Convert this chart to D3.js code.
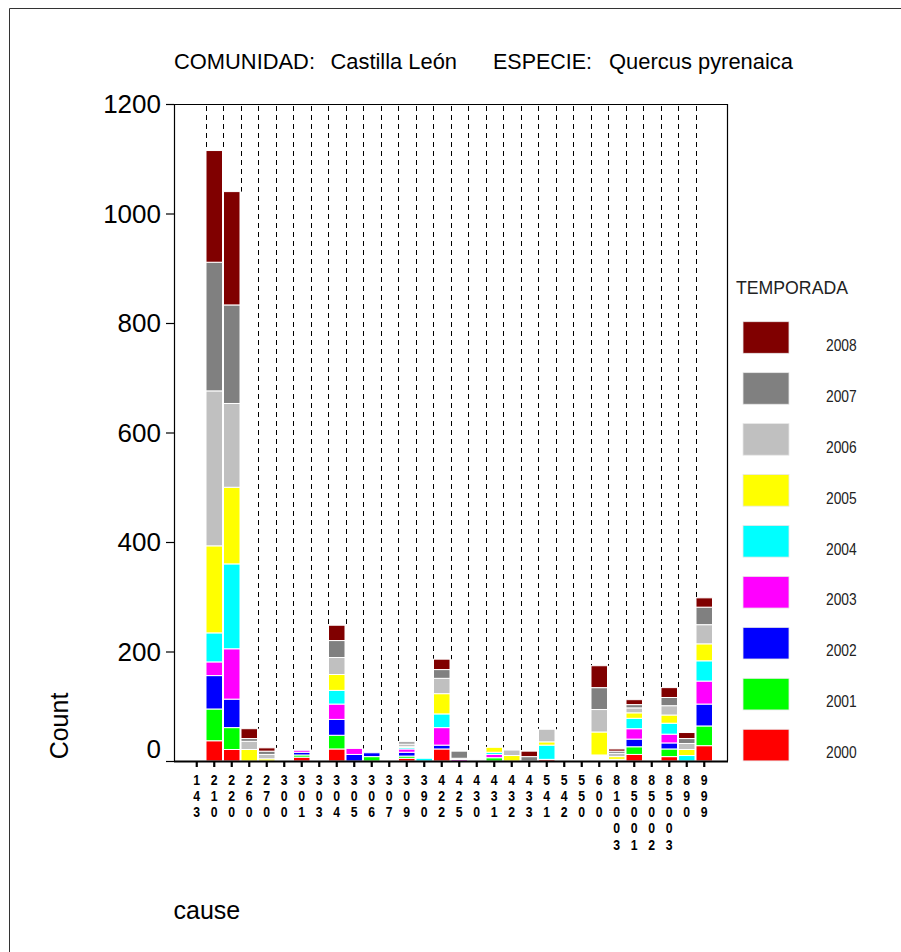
<!DOCTYPE html>
<html>
<head>
<meta charset="utf-8">
<script src="https://cdn.jsdelivr.net/npm/d3@7"></script>
<style>
  html, body { margin: 0; padding: 0; background: #fff; }
  svg { display: block; }
  text { font-family: "Liberation Sans", Arial, sans-serif; }
</style>
</head>
<body>
<div id="chart"></div>
<script>
// ---------------- DATA ----------------
const categories = ["143","210","220","260","270","300","301","303","304","305","306","307","309","390","422","425","430","431","432","433","541","542","550","600","81003","85001","85002","85003","890","999"];
const years = ["2000","2001","2002","2003","2004","2005","2006","2007","2008"];
const yearColors = ["#ff0000","#00ff00","#0000ff","#ff00ff","#00ffff","#ffff00","#c0c0c0","#808080","#800000"];

const sinDato = [0,0,0,0,0,0,0,0,0,0,0,0,0,0,0,0,0,0,0,0,0,0,0,11,3,0,0,0,0,0];
const y2000 = [0,37,21,0,0,0,7,0,22,0,0,0,5,0,22,0,0,0,0,0,3,0,0,0,0,12,0,8,0,28];
const y2001 = [0,58,40,0,0,0,4,0,25,0,8,0,4,0,0,0,0,6,0,0,0,0,0,0,0,14,0,14,0,36];
const y2002 = [0,61,52,0,0,0,5,0,29,12,7,0,7,0,7,0,0,0,0,0,0,0,0,0,0,14,0,11,0,40];
const y2003 = [0,25,92,0,0,0,4,0,28,11,0,0,6,0,32,3,0,6,0,0,0,0,0,0,0,19,0,16,0,42];
const y2004 = [0,53,155,0,0,0,1,0,25,0,0,0,3,5,25,0,0,4,0,0,26,0,0,0,0,19,0,20,10,37];
const y2005 = [0,159,140,21,4,0,0,0,29,0,0,0,1,0,37,0,0,9,10,0,6,0,0,42,5,10,0,15,11,31];
const y2006 = [0,283,153,15,8,0,0,0,31,0,0,0,5,0,28,2,2,0,10,0,23,0,0,41,6,9,0,17,11,35];
const y2007 = [0,235,180,5,6,0,0,0,31,0,0,0,4,0,16,13,0,0,0,8,0,0,0,40,4,6,0,15,9,32];
const y2008 = [0,204,207,18,6,0,0,0,28,0,0,0,0,0,19,0,0,0,0,10,0,0,0,40,4,9,0,18,11,17];

const yTicks = [0,200,400,600,800,1000,1200];
const titleParts = ["COMUNIDAD:", "Castilla León", "ESPECIE:", "Quercus pyrenaica"];
const legendTitle = "TEMPORADA";
const yTitle = "Count";
const xTitle = "cause";

// ---------------- BUILD ----------------
const seriesArrays = [y2000,y2001,y2002,y2003,y2004,y2005,y2006,y2007,y2008];
const keys = ["blank"].concat(years);
const table = categories.map((c, i) => {
  const row = { cat: c, blank: sinDato[i] };
  years.forEach((yr, k) => row[yr] = seriesArrays[k][i]);
  return row;
});
const colorOf = k => k === "blank" ? "#ffffff" : yearColors[years.indexOf(k)];

const W = 901, H = 952;
const plot = { left: 174, right: 727, top: 104, bottom: 761 };

const svg = d3.select("#chart").append("svg").attr("width", W).attr("height", H);
svg.append("rect").attr("width", W).attr("height", H).attr("fill", "#fff");

// outer border
svg.append("path").attr("d", `M9.5,${H} V8.5 H${W}`).attr("fill", "none").attr("stroke", "#333").attr("stroke-width", 1);

const x = d3.scaleBand().domain(categories).range([plot.left, plot.right]).paddingInner(0).paddingOuter(0.8);
const y = d3.scaleLinear().domain([0, 1200]).range([plot.bottom, plot.top]);

const stacked = d3.stack().keys(keys)(table);
const totals = table.map(r => keys.reduce((s, k) => s + r[k], 0));

// dashed drop lines at boundaries between categories
const g = svg.append("g");
for (let i = 1; i < categories.length; i++) {
  const bx = Math.round(x(categories[i])) + 0.5;
  const yb = y(Math.max(totals[i - 1], totals[i]));
  g.append("line").attr("x1", bx).attr("x2", bx).attr("y1", plot.top + 2).attr("y2", yb)
    .attr("stroke", "#000").attr("stroke-width", 1).attr("stroke-dasharray", "5,4");
}

// bars
stacked.forEach(layer => {
  g.append("g").selectAll("rect").data(layer.filter(d => d[1] - d[0] > 0)).join("rect")
    .attr("x", d => x(d.data.cat) + 0.5)
    .attr("width", x.bandwidth() - 1)
    .attr("y", d => y(d[1]))
    .attr("height", d => y(d[0]) - y(d[1]))
    .attr("fill", colorOf(layer.key))
    .attr("stroke", "#ffffff")
    .attr("stroke-width", 1);
});

// frame top & right
svg.append("line").attr("x1", plot.left).attr("x2", plot.right + 0.5).attr("y1", plot.top + 0.5).attr("y2", plot.top + 0.5).attr("stroke", "#000").attr("stroke-width", 1.2);
svg.append("line").attr("x1", plot.right + 0.5).attr("x2", plot.right + 0.5).attr("y1", plot.top).attr("y2", plot.bottom).attr("stroke", "#000").attr("stroke-width", 1.2);

// y axis
const yAxis = svg.append("g").attr("transform", `translate(${plot.left},0)`)
  .call(d3.axisLeft(y).tickValues(yTicks).tickSize(8).tickSizeOuter(0).tickPadding(5).tickFormat(d3.format("d")));
yAxis.select(".domain").attr("stroke", "#000").attr("stroke-width", 1.2);
yAxis.selectAll(".tick line").attr("stroke", "#000").attr("stroke-width", 1.2);
yAxis.selectAll(".tick text").attr("font-size", 26).attr("fill", "#000")
  .attr("font-family", '"Liberation Sans", Arial, sans-serif')
  .attr("dy", d => d === 0 ? "-0.12em" : "0.34em");

// x axis
const xAxis = svg.append("g").attr("transform", `translate(0,${plot.bottom})`)
  .call(d3.axisBottom(x).tickSize(6).tickSizeOuter(0).tickFormat(""));
xAxis.select(".domain").attr("stroke", "#000").attr("stroke-width", 2).attr("d", `M${plot.left},0.5H${plot.right + 1}`);
xAxis.selectAll(".tick line").attr("stroke", "#000").attr("stroke-width", 2.2);

// x labels (vertical stacked digits)
const xl = svg.append("g");
categories.forEach(c => {
  const cx = x(c) + x.bandwidth() / 2;
  c.split("").forEach((ch, j) => {
    xl.append("text").attr("x", cx).attr("y", 784.5 + 16.3 * j)
      .attr("text-anchor", "middle").attr("font-size", 15).attr("font-weight", "bold")
      .attr("textLength", 6.8).attr("lengthAdjust", "spacingAndGlyphs")
      .attr("fill", "#000").text(ch);
  });
});

// title
const titleX = [174, 330.5, 493, 609];
const titleW = [141, 126.5, 99, 184];
titleParts.forEach((t, i) => {
  svg.append("text").attr("x", titleX[i]).attr("y", 68.5).attr("font-size", 22)
    .attr("textLength", titleW[i]).attr("lengthAdjust", "spacingAndGlyphs")
    .attr("fill", "#000").text(t);
});

// axis titles
svg.append("text").attr("transform", "translate(68,726) rotate(-90)").attr("text-anchor", "middle")
  .attr("font-size", 25).attr("fill", "#000").text(yTitle);
svg.append("text").attr("x", 173.5).attr("y", 919).attr("font-size", 25).attr("fill", "#000").text(xTitle);

// legend
svg.append("text").attr("x", 736).attr("y", 294).attr("font-size", 19)
  .attr("textLength", 112).attr("lengthAdjust", "spacingAndGlyphs").attr("fill", "#222").text(legendTitle);
const legYears = years.slice().reverse();
legYears.forEach((yr, k) => {
  const top = 321.7 + k * 50.95;
  svg.append("rect").attr("x", 743).attr("y", top).attr("width", 46).attr("height", 31.6)
    .attr("fill", yearColors[years.indexOf(yr)]).attr("stroke", "#e8e8e8").attr("stroke-width", 0.8);
  svg.append("text").attr("x", 826).attr("y", top + 29).attr("font-size", 17)
    .attr("textLength", 30.7).attr("lengthAdjust", "spacingAndGlyphs").attr("fill", "#222").text(yr);
});
</script>
</body>
</html>
